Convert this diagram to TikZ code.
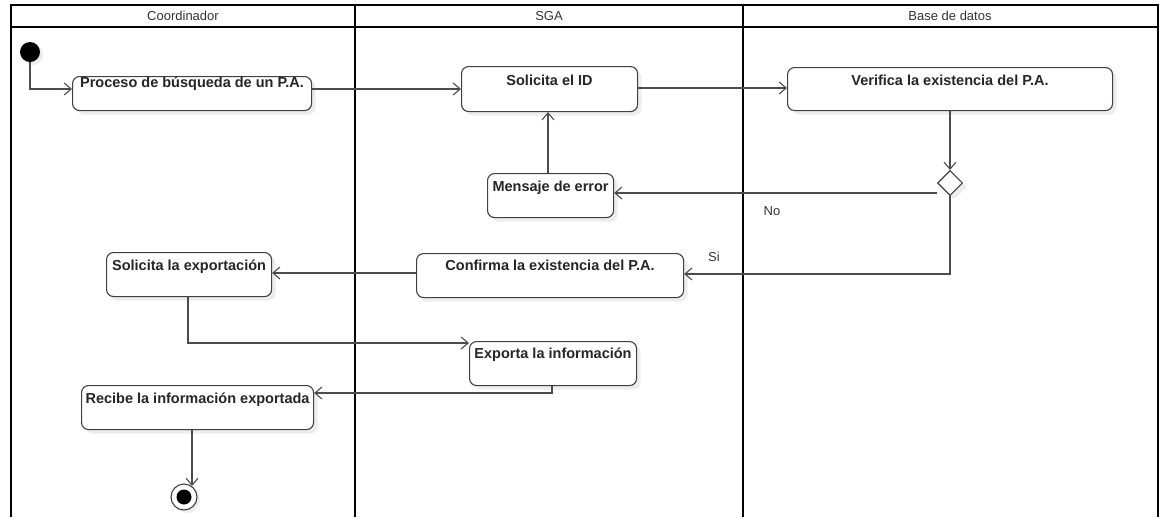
\documentclass[tikz,border=0pt]{standalone}
\usepackage{fontspec}
\setmainfont{Liberation Sans}
\usepackage{tikz}
\usetikzlibrary{arrows.meta,shapes.geometric,shadows}

\begin{document}
\begin{tikzpicture}
[x=1pt,y=-1pt
,lane/.style={line width=2pt,black}
,act/.style={draw=black!75,rounded corners=7pt,line width=1.1pt,fill=white,anchor=north west
  ,inner sep=0pt,font=\bfseries\fontsize{14.5}{16}\selectfont,text=black!85
  ,drop shadow={shadow xshift=4pt,shadow yshift=-4pt,fill=black!7,opacity=1}}
,flow/.style={draw=black!70,line width=1.1pt,arrows={-Straight Barb[length=7pt,width=12pt]}}
,plain/.style={font=\fontsize{13}{15}\selectfont,text=black!80}
]
\useasboundingbox (0,0) rectangle (1164,517);
% swimlanes
\draw[lane] (11,517) -- (11,5) -- (1158,5) -- (1158,517);
\draw[lane] (11,27) -- (1158,27);
\draw[lane] (355,5) -- (355,517);
\draw[lane] (743,5) -- (743,517);
\node[plain] (hcoord) at (183,16) {Coordinador};
\node[plain] (hsga) at (549,16) {SGA};
\node[plain] (hbd) at (950,16) {Base de datos};
% activities
\node[act,minimum width=239pt,minimum height=34pt,text height=11pt,text depth=23pt] (proceso) at (72,76) {Proceso de búsqueda de un P.A.};
\node[act,minimum width=176pt,minimum height=45pt,text height=19pt,text depth=26pt] (solid) at (461,66) {Solicita el ID};
\node[act,minimum width=325pt,minimum height=43pt,text height=18pt,text depth=25pt] (verifica) at (787,67) {Verifica la existencia del P.A.};
\node[act,minimum width=126pt,minimum height=44pt,text height=18pt,text depth=26pt] (mensaje) at (487,173) {Mensaje de error};
\node[act,minimum width=267pt,minimum height=44pt,text height=17pt,text depth=27pt] (confirma) at (416,253) {Confirma la existencia del P.A.};
\node[act,minimum width=165pt,minimum height=44pt,text height=18pt,text depth=26pt] (solexp) at (106,252) {Solicita la exportación};
\node[act,minimum width=167pt,minimum height=44pt,text height=17pt,text depth=27pt] (exporta) at (469,341) {Exporta la información};
\node[act,minimum width=232pt,minimum height=44pt,text height=18pt,text depth=26pt] (recibe) at (81,385) {Recibe la información exportada};
% start, decision, end
\node[circle,fill=black,minimum size=20pt,inner sep=0pt
  ,drop shadow={shadow xshift=3pt,shadow yshift=-3pt,fill=black!7,opacity=1}] (init) at (30,52) {};
\node[diamond,draw=black!75,line width=1.1pt,fill=white,minimum size=25pt,inner sep=0pt
  ,drop shadow={shadow xshift=4pt,shadow yshift=-4pt,fill=black!7,opacity=1}] (decision) at (950,183) {};
\node[circle,draw=black!75,line width=1.1pt,fill=white,minimum size=26pt,inner sep=0pt
  ,drop shadow={shadow xshift=3pt,shadow yshift=-3pt,fill=black!7,opacity=1}] (final) at (184,497) {};
\node[circle,fill=black,minimum size=15pt,inner sep=0pt] (finaldot) at (final) {};
\coordinate (finaltip) at (192,486);
% labels
\node[plain] (lno) at (772,211) {No};
\node[plain] (lsi) at (714,257) {Si};
% flows
\draw[flow] (init.south) |- (proceso.west |- 0,89);
\draw[flow] (proceso.east |- 0,89) -- (solid.west |- 0,89);
\draw[flow] (solid.east |- 0,88) -- (verifica.west |- 0,88);
\draw[flow] (verifica.south -| decision) -- (decision.north);
\draw[flow] (decision.west |- 0,193) -- (mensaje.east |- 0,193);
\draw[flow] (mensaje.north -| 548,0) -- (solid.south -| 548,0);
\draw[flow] (decision.south) |- (confirma.east |- 0,274);
\draw[flow] (confirma.west |- 0,273) -- (solexp.east |- 0,273);
\draw[flow] (solexp.south -| 188,0) |- (exporta.west |- 0,343);
\draw[flow] (exporta.south -| 552,0) |- (recibe.east |- 0,393);
\draw[flow] (recibe.south -| finaltip) -- (finaltip);
\end{tikzpicture}
\end{document}
